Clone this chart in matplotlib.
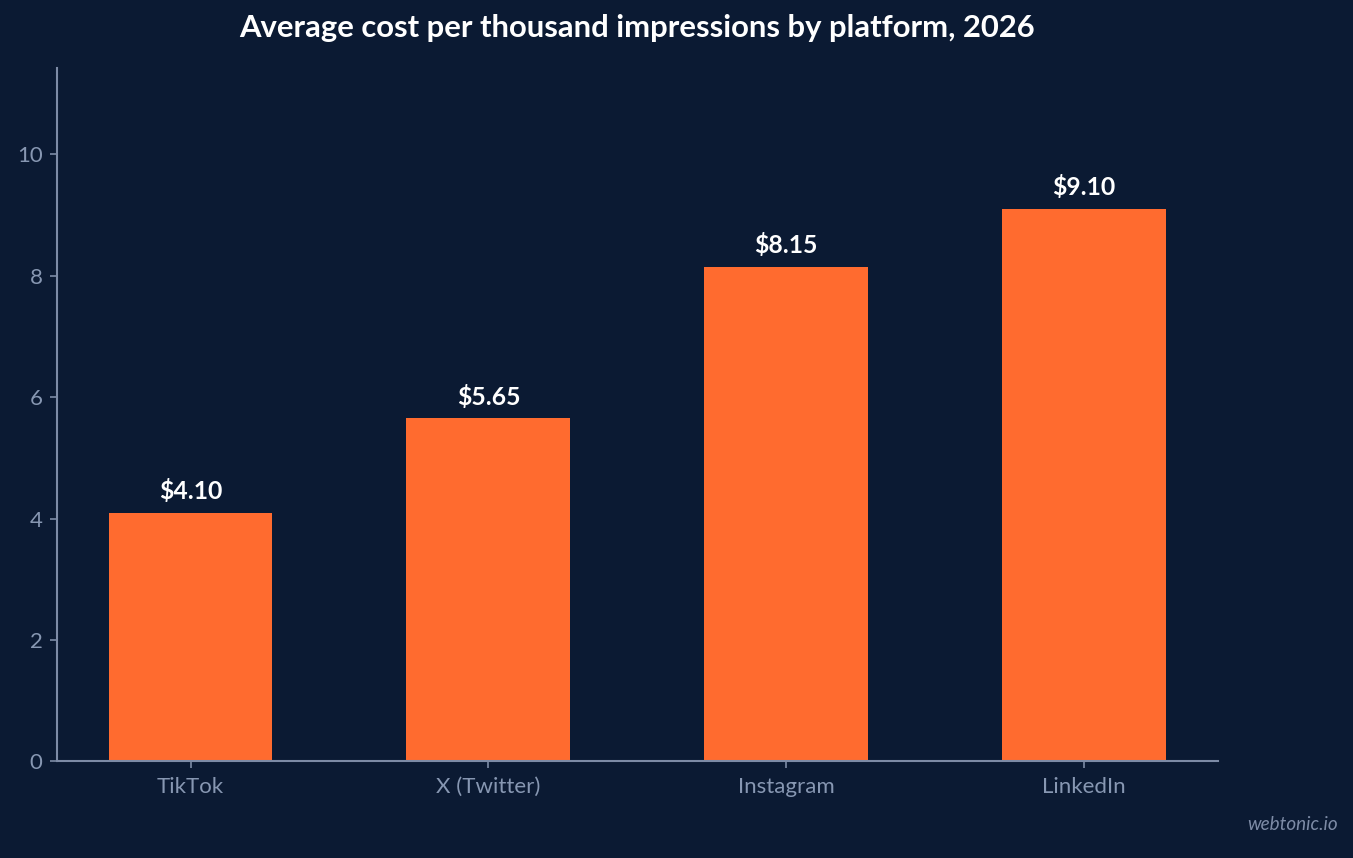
import matplotlib
matplotlib.use("Agg")
import matplotlib.pyplot as plt

platforms = ["TikTok", "X (Twitter)", "Instagram", "LinkedIn"]
cpm = [4.10, 5.65, 8.15, 9.10]
yticks = [0, 2, 4, 6, 8, 10]

BG = "#0b1a33"
BAR = "#ff6b2f"
AXIS = "#7d8ba6"
TICK_TXT = "#8797b2"

plt.rcParams["font.family"] = ["Lato", "DejaVu Sans"]

fig = plt.figure(figsize=(13.53, 8.58), dpi=100, facecolor=BG)
ax = fig.add_axes([0.0418, 0.1125, 0.8584, 0.8082])
ax.set_facecolor(BG)

x = range(len(platforms))
bars = ax.bar(x, cpm, width=0.55, color=BAR, zorder=2)

for b, v in zip(bars, cpm):
    ax.annotate(f"${v:.2f}", (b.get_x() + b.get_width() / 2, v),
                xytext=(0, 7), textcoords="offset points",
                ha="center", va="bottom", color="white",
                fontsize=17.8, fontweight="bold")

ax.set_xlim(-0.45, 3.45)
ax.set_ylim(0, 11.42)
ax.set_xticks(list(x))
ax.set_xticklabels(platforms)
ax.set_yticks(yticks)

for side in ["top", "right"]:
    ax.spines[side].set_visible(False)
for side in ["left", "bottom"]:
    ax.spines[side].set_color(AXIS)
    ax.spines[side].set_linewidth(1.5)

ax.tick_params(colors=AXIS, labelcolor=TICK_TXT, labelsize=16, length=5, width=1.2)
ax.tick_params(axis="x", pad=6)
ax.tick_params(axis="y", pad=5)

ax.set_title("Average cost per thousand impressions by platform, 2026",
             color="white", fontsize=22.3, fontweight="bold", pad=22)

fig.text(0.989, 0.029, "webtonic.io", color=AXIS, fontsize=13.6,
         style="italic", ha="right", va="bottom")

fig.savefig("out.png", dpi=100, facecolor=BG)
